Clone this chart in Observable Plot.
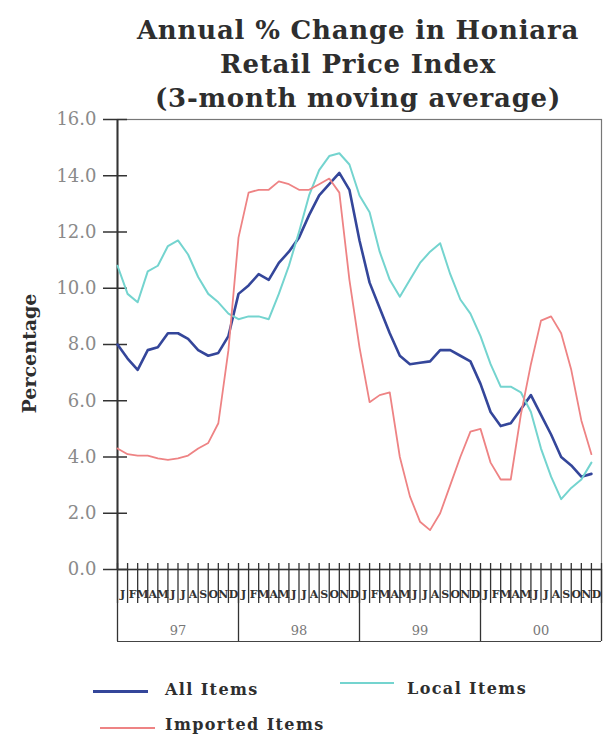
<!DOCTYPE html>
<html>
<head>
<meta charset="utf-8">
<script src="https://cdn.jsdelivr.net/npm/d3@7"></script>
<script src="https://cdn.jsdelivr.net/npm/@observablehq/plot@0.6"></script>
<style>
  body { margin: 0; background: #fff; font-family: "DejaVu Serif", serif; }
  #wrap { position: relative; width: 604px; height: 736px; overflow: hidden; background: #fff; }
  #title { position: absolute; top: 13px; left: 112px; width: 492px; text-align: center; z-index: 2;
           font-weight: bold; font-size: 26px; letter-spacing: 0.8px; line-height: 34px; color: #2e2e2e; }
  #chart { position: absolute; top: 110px; left: 0; z-index: 1; }
  .sw { position: absolute; height: 3px; }
  .lt { position: absolute; font-weight: bold; font-size: 16px; letter-spacing: 1.4px; line-height: 18px; color: #2e2e2e; transform: translateY(-50%); white-space: nowrap; }
</style>
</head>
<body>
<div id="wrap">
  <div id="chart"></div>
  <div id="title">Annual % Change in Honiara<br>Retail Price Index<br>(3-month moving average)</div>
  <div class="sw" style="left:93px;top:690px;width:55px;background:#34469a"></div>
  <div class="lt" style="left:165px;top:690px">All Items</div>
  <div class="sw" style="left:340px;top:682px;width:54px;height:2px;background:#74d4cf"></div>
  <div class="lt" style="left:407px;top:689px">Local Items</div>
  <div class="sw" style="left:100px;top:727px;width:55px;height:2px;background:#ee8384"></div>
  <div class="lt" style="left:165px;top:725px">Imported Items</div>
</div>
<script>
const months = d3.range(48); // Jan 1997 .. Dec 2000
const monthLetters = ["J","F","M","A","M","J","J","A","S","O","N","D"];
const yearLabels = ["97","98","99","00"];
const yearStarts = [0, 12, 24, 36, 48];
const yearMids = [6, 18, 30, 42];
const yTicks = [0, 2, 4, 6, 8, 10, 12, 14, 16];

const allItems = [
  8.0, 7.5, 7.1, 7.8, 7.9, 8.4, 8.4, 8.2, 7.8, 7.6, 7.7, 8.3,
  9.8, 10.1, 10.5, 10.3, 10.9, 11.3, 11.8, 12.6, 13.3, 13.7, 14.1, 13.5,
  11.7, 10.2, 9.3, 8.4, 7.6, 7.3, 7.35, 7.4, 7.8, 7.8, 7.6, 7.4,
  6.6, 5.6, 5.1, 5.2, 5.7, 6.2, 5.5, 4.8, 4.0, 3.7, 3.3, 3.4
];
const localItems = [
  10.8, 9.8, 9.5, 10.6, 10.8, 11.5, 11.7, 11.2, 10.4, 9.8, 9.5, 9.1,
  8.9, 9.0, 9.0, 8.9, 9.8, 10.8, 12.0, 13.3, 14.2, 14.7, 14.8, 14.4,
  13.3, 12.7, 11.3, 10.3, 9.7, 10.3, 10.9, 11.3, 11.6, 10.5, 9.6, 9.1,
  8.3, 7.3, 6.5, 6.5, 6.3, 5.6, 4.3, 3.3, 2.5, 2.9, 3.2, 3.8
];
const importedItems = [
  4.3, 4.1, 4.05, 4.05, 3.95, 3.9, 3.95, 4.05, 4.3, 4.5, 5.2, 7.8,
  11.8, 13.4, 13.5, 13.5, 13.8, 13.7, 13.5, 13.5, 13.7, 13.9, 13.4, 10.3,
  7.9, 5.95, 6.2, 6.3, 4.0, 2.6, 1.7, 1.4, 2.0, 3.0, 4.0, 4.9,
  5.0, 3.8, 3.2, 3.2, 5.5, 7.3, 8.85, 9.0, 8.4, 7.1, 5.3, 4.1
];

const blue = "#34469a", cyan = "#74d4cf", red = "#ee8384";

const chart = Plot.plot({
  width: 604,
  height: 545,
  marginTop: 9,
  marginBottom: 86,
  marginLeft: 117,
  marginRight: 3,
  style: { fontFamily: "DejaVu Serif, serif", background: "white", overflow: "visible" },
  x: { domain: [0, 48], label: null },
  y: { domain: [0, 16], label: null },
  marks: [
    Plot.frame({ stroke: "#777", strokeWidth: 1.2 }),
    // y ticks crossing the axis
    Plot.axisY({ ticks: yTicks, tickSize: 24, dx: 10, tickFormat: () => "", stroke: "#333", strokeWidth: 1.5, label: null }),
    // y tick labels
    Plot.axisY({ ticks: yTicks, tickSize: 0, tickPadding: 21, tickFormat: d => d.toFixed(1),
                 fontSize: 18, fill: "#8a8a8a", label: null }),
    Plot.text(["Percentage"], { frameAnchor: "left", textAnchor: "middle", dx: -88, dy: 9, rotate: -90,
                 fontSize: 19, fontWeight: "bold", fill: "#2e2e2e" }),
    // month ticks
    Plot.axisX({ ticks: d3.range(0, 49), tickSize: 40, dy: -6, tickFormat: () => "", stroke: "#333", strokeWidth: 1.3, label: null }),
    // month letters
    Plot.axisX({ ticks: months.map(m => m + 0.5), tickSize: 0, tickPadding: 21,
                 tickFormat: d => monthLetters[Math.floor(d) % 12], fontSize: 11, fontWeight: "bold", fill: "#333", label: null }),
    // year separators
    Plot.axisX({ ticks: yearStarts, tickSize: 72, tickFormat: () => "", stroke: "#333", strokeWidth: 1.3, label: null }),
    // year labels
    Plot.axisX({ ticks: yearMids, tickSize: 0, tickPadding: 56,
                 tickFormat: d => yearLabels[yearMids.indexOf(d)], fontSize: 13, fill: "#777", label: null }),
    Plot.ruleY([0], { dy: 72, stroke: "#444", strokeWidth: 1.2 }),
    Plot.ruleY([0], { stroke: "#333", strokeWidth: 1.5 }),
    Plot.ruleX([0], { stroke: "#333", strokeWidth: 2 }),
    Plot.line(months, { x: m => m, y: m => allItems[m], stroke: blue, strokeWidth: 2.6 }),
    Plot.line(months, { x: m => m, y: m => localItems[m], stroke: cyan, strokeWidth: 2 }),
    Plot.line(months, { x: m => m, y: m => importedItems[m], stroke: red, strokeWidth: 1.8 })
  ]
});
document.getElementById("chart").appendChild(chart);
</script>
</body>
</html>
